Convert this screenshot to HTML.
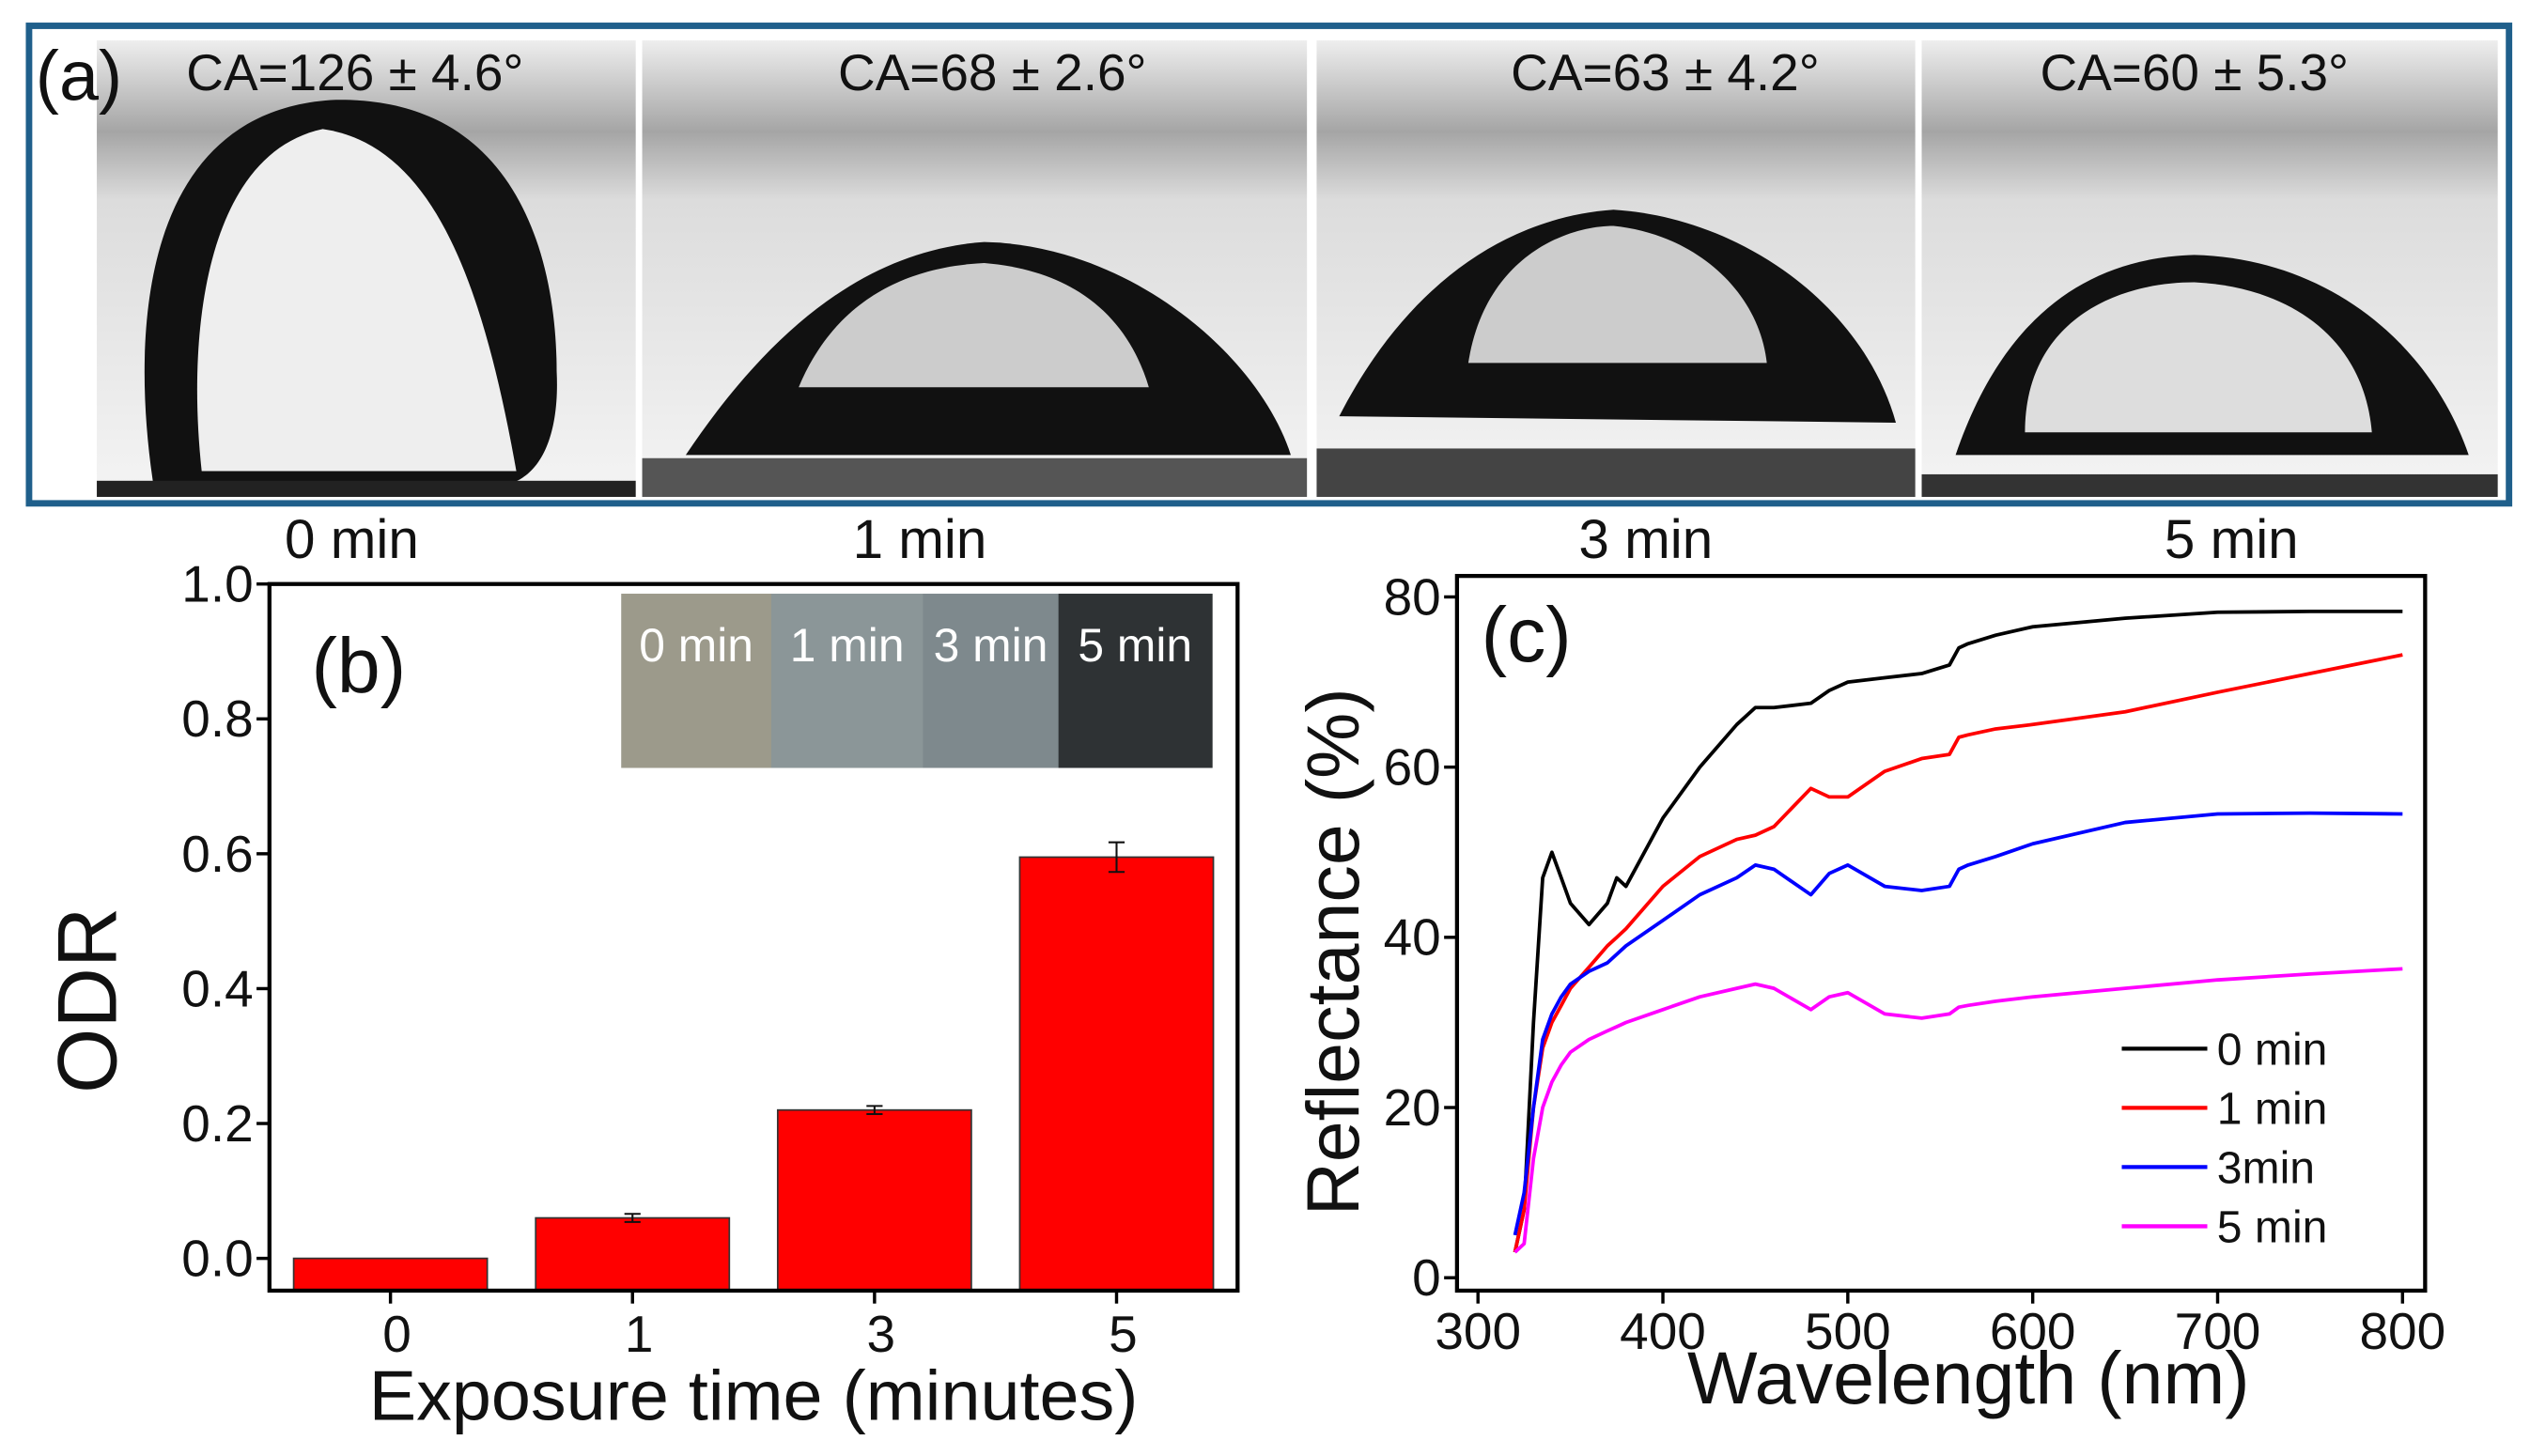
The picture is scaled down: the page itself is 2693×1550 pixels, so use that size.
<!DOCTYPE html>
<html><head><meta charset="utf-8"><style>
html,body{margin:0;padding:0;background:#fff;width:2693px;height:1550px;overflow:hidden}
svg{display:block}
text{font-family:"Liberation Sans",Arial,sans-serif;fill:#111}
</style></head><body>
<svg id="fig" width="2693" height="1550" viewBox="0 0 1568 902.5" preserveAspectRatio="none" xmlns="http://www.w3.org/2000/svg">
<defs>
<linearGradient id="bg" x1="0" y1="0" x2="0" y2="1">
<stop offset="0" stop-color="#eeeeee"/><stop offset="0.2" stop-color="#a5a5a5"/><stop offset="0.35" stop-color="#dcdcdc"/><stop offset="1" stop-color="#f4f4f4"/>
</linearGradient>
</defs>
<g>
<rect x="18" y="16" width="1537" height="296" fill="#fff" stroke="#1f5f8b" stroke-width="4"/>
<g>
<rect x="60" y="25" width="334" height="283" fill="url(#bg)"/>
<path d="M95 300 C80 200 90 70 205 62 C320 58 345 160 345 230 C347 270 335 295 315 300 Z" fill="#111"/>
<path d="M125 292 C115 200 130 95 200 80 C270 90 300 180 320 292 Z" fill="#eee"/>
<rect x="60" y="298" width="334" height="10" fill="#222"/>
</g>
<g>
<rect x="398" y="25" width="412" height="283" fill="url(#bg)"/>
<path d="M425 282 C480 200 540 155 610 150 C700 152 780 220 800 282 Z" fill="#111"/>
<path d="M495 240 C520 180 570 165 610 163 C670 168 700 200 712 240 Z" fill="#ccc"/>
<rect x="398" y="284" width="412" height="24" fill="#555"/>
</g>
<g>
<rect x="816" y="25" width="371" height="283" fill="url(#bg)"/>
<path d="M830 258 C870 180 930 135 1000 130 C1080 135 1155 190 1175 262 Z" fill="#111"/>
<path d="M910 225 C920 160 970 140 1000 140 C1050 145 1090 180 1095 225 Z" fill="#ccc"/>
<rect x="816" y="278" width="371" height="30" fill="#444"/>
</g>
<g>
<rect x="1191" y="25" width="357" height="283" fill="url(#bg)"/>
<path d="M1212 282 C1240 200 1290 160 1360 158 C1440 160 1505 210 1530 282 Z" fill="#111"/>
<path d="M1255 268 C1255 200 1310 175 1360 175 C1420 178 1465 210 1470 268 Z" fill="#ddd"/>
<rect x="1191" y="294" width="357" height="14" fill="#333"/>
</g>
<text x="22" y="62" font-size="44">(a)</text>
<text x="220" y="56" font-size="32" text-anchor="middle">CA=126 ± 4.6°</text>
<text x="615" y="56" font-size="32" text-anchor="middle">CA=68 ± 2.6°</text>
<text x="1032" y="56" font-size="32" text-anchor="middle">CA=63 ± 4.2°</text>
<text x="1360" y="56" font-size="32" text-anchor="middle">CA=60 ± 5.3°</text>
<text x="218" y="346" font-size="34" text-anchor="middle">0 min</text>
<text x="570" y="346" font-size="34" text-anchor="middle">1 min</text>
<text x="1020" y="346" font-size="34" text-anchor="middle">3 min</text>
<text x="1383" y="346" font-size="34" text-anchor="middle">5 min</text>
</g>
<g id="pb"></g>
<g id="pc"></g>
</svg>
<script>
const barCats = ["0","1","3","5"];
const barVals = [0.0, 0.06, 0.22, 0.595];
const barErrs = [0.0, 0.006, 0.006, 0.022];
const bTicks = [0.0,0.2,0.4,0.6,0.8,1.0];
const insetLabels = ["0 min","1 min","3 min","5 min"];
const insetColors = ["#9c9a8b","#8b9698","#7e898d","#2e3234"];

const wl = [320,325,330,335,340,345,350,360,370,375,380,400,420,440,450,460,480,490,500,520,540,555,560,565,580,600,650,700,750,800];
const r0 = [3,8,30,47,50,47,44,41.5,44,47,46,54,60,65,67,67,67.5,69,70,70.5,71,72,74,74.5,75.5,76.5,77.5,78.2,78.3,78.3];
const r1 = [3,8,20,27,30,32,34,36.5,39,40,41,46,49.5,51.5,52,53,57.5,56.5,56.5,59.5,61,61.5,63.5,63.8,64.5,65,66.5,68.8,71,73.2];
const r3 = [5,10,20,28,31,33,34.5,36,37,38,39,42,45,47,48.5,48,45,47.5,48.5,46,45.5,46,48,48.5,49.5,51,53.5,54.5,54.6,54.5];
const r5 = [3,4,14,20,23,25,26.5,28,29,29.5,30,31.5,33,34,34.5,34,31.5,33,33.5,31,30.5,31,31.8,32,32.5,33,34,35,35.7,36.3];
const seriesNames = ["0 min","1 min","3min","5 min"];
const seriesColors = ["#000","#f00","#00f","#f0f"];
const xTicksC = [300,400,500,600,700,800];
const yTicksC = [0,20,40,60,80];

const NS="http://www.w3.org/2000/svg";
function mk(p,tag,a,txt){const e=document.createElementNS(NS,tag);for(const k in a)e.setAttribute(k,a[k]);if(txt!==undefined)e.textContent=txt;p.appendChild(e);return e;}

// Panel b
const pb=document.getElementById('pb');
const bx0=167,bx1=767,by0=362,by1=800;
const yB=v=>780-(v/0.2)*83.6;
const xB=i=>242+i*150;
const inset=mk(pb,'g',{});


const insX=[385,478,572,656,751];
insetColors.forEach((c,i)=>{mk(inset,'rect',{x:insX[i],y:368,width:insX[i+1]-insX[i]+0.5,height:108,fill:c});
 const t=mk(inset,'text',{x:(insX[i]+insX[i+1])/2,y:410,'font-size':29,'text-anchor':'middle',style:'fill:#fff'},insetLabels[i]);
 
 });
barVals.forEach((v,i)=>{
 const r=mk(pb,'rect',{x:xB(i)-60,y:yB(v),width:120,height:by1-yB(v),fill:'#f00',stroke:'#333','stroke-width':1});
 
 
 if(barErrs[i]>0){const e=barErrs[i],g=mk(pb,'g',{stroke:'#111','stroke-width':1.2});
  
  
  mk(g,'line',{x1:xB(i),x2:xB(i),y1:yB(v+e),y2:yB(v-e)});
  mk(g,'line',{x1:xB(i)-5,x2:xB(i)+5,y1:yB(v+e),y2:yB(v+e)});
  mk(g,'line',{x1:xB(i)-5,x2:xB(i)+5,y1:yB(v-e),y2:yB(v-e)});}
 mk(pb,'line',{x1:xB(i),x2:xB(i),y1:by1,y2:by1+8,stroke:'#000','stroke-width':2});
 const t=mk(pb,'text',{x:xB(i)+4,y:838,'font-size':32,'text-anchor':'middle'},barCats[i]);
 
 
});
bTicks.forEach(v=>{mk(pb,'line',{x1:bx0-8,x2:bx0,y1:yB(v),y2:yB(v),stroke:'#000','stroke-width':2});
 const t=mk(pb,'text',{x:bx0-10,y:yB(v)+11,'font-size':32,'text-anchor':'end'},v.toFixed(1));
 
 });
const fb=mk(pb,'rect',{x:bx0,y:by0,width:bx1-bx0,height:by1-by0,fill:'none',stroke:'#000','stroke-width':2.5});


let t=mk(pb,'text',{x:193,y:429,'font-size':48},'(b)');


t=mk(pb,'text',{x:72,y:620,'font-size':52,'text-anchor':'middle',transform:'rotate(-90 72 620)'},'ODR');


t=mk(pb,'text',{x:467,y:880,'font-size':44,'text-anchor':'middle'},'Exposure time (minutes)');



// Panel c
const pc=document.getElementById('pc');
const cx0=903,cx1=1503,cy0=357,cy1=800;
const xC=w=>916+(w-300)*1.146;
const yC=v=>792-v*5.275;
xTicksC.forEach(w=>{mk(pc,'line',{x1:xC(w),x2:xC(w),y1:cy1,y2:cy1+8,stroke:'#000','stroke-width':2});
 const t=mk(pc,'text',{x:xC(w),y:836,'font-size':32,'text-anchor':'middle'},String(w));
 
 });
yTicksC.forEach(v=>{mk(pc,'line',{x1:cx0-8,x2:cx0,y1:yC(v),y2:yC(v),stroke:'#000','stroke-width':2});
 const t=mk(pc,'text',{x:cx0-10,y:yC(v)+11,'font-size':32,'text-anchor':'end'},String(v));
 
 });
[r0,r1,r3,r5].forEach((s,k)=>{
 const d=s.map((v,i)=>(i?'L':'M')+xC(wl[i]).toFixed(1)+' '+yC(v).toFixed(1)).join(' ');
 const p=mk(pc,'path',{d:d,fill:'none',stroke:seriesColors[k],'stroke-width':2.2,'stroke-linejoin':'round'});
 
 
 const ly=650+k*36.7;
 const lg=mk(pc,'g',{});
 
 
 mk(lg,'line',{x1:1315,x2:1368,y1:ly,y2:ly,stroke:seriesColors[k],'stroke-width':2.5});
 mk(lg,'text',{x:1374,y:ly+10,'font-size':28},seriesNames[k]);
});
const fc=mk(pc,'rect',{x:cx0,y:cy0,width:cx1-cx0,height:cy1-cy0,fill:'none',stroke:'#000','stroke-width':2.5});


t=mk(pc,'text',{x:918,y:410,'font-size':48},'(c)');


t=mk(pc,'text',{x:842,y:590,'font-size':46,'text-anchor':'middle',transform:'rotate(-90 842 590)'},'Reflectance (%)');


t=mk(pc,'text',{x:1220,y:870,'font-size':46,'text-anchor':'middle'},'Wavelength (nm)');


</script>
</body></html>
